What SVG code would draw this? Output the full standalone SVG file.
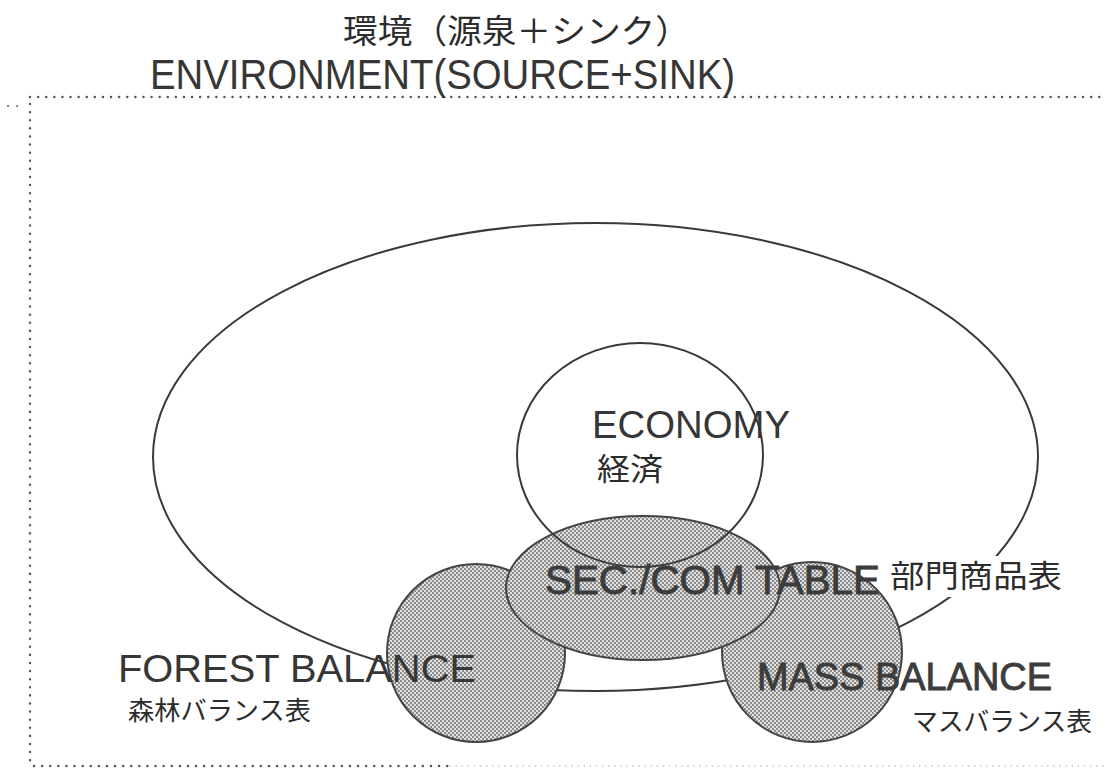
<svg xmlns="http://www.w3.org/2000/svg" width="1107" height="769" viewBox="0 0 1107 769">
<style>
.en{font-family:"Liberation Sans",Arial,sans-serif;fill:#363636}
.enb{font-family:"Liberation Sans",Arial,sans-serif;fill:#3c3c3c;stroke:#3c3c3c;stroke-width:0.9}
.jp{font-family:"Noto Sans CJK JP","Liberation Sans",sans-serif;fill:#2c2c2c}
.line{fill:none;stroke:#3a3a3a;stroke-width:2}
.shade{fill:url(#dots);stroke:#444;stroke-width:2}
.dotted{fill:none;stroke:#555;stroke-width:2.4;stroke-dasharray:0.1 8;stroke-linecap:round}
.dotted-faint{fill:none;stroke:#bbb;stroke-width:1.6;stroke-dasharray:0.1 6;stroke-linecap:round}
</style>
<defs>
<pattern id="dots" width="4" height="4" patternUnits="userSpaceOnUse">
<rect width="4" height="4" fill="#e0e0e0"/>
<rect width="2" height="2" fill="#8c8c8c"/>
<rect x="2" y="2" width="2" height="2" fill="#8c8c8c"/>
</pattern>
</defs>
<rect width="1107" height="769" fill="#ffffff"/>
<g id="border">
<path class="dotted" d="M30,97 H1107"/>
<path class="dotted" d="M30,104 V766"/>
<path class="dotted" d="M34,766 H450"/>
<path class="dotted-faint" d="M450,766 H1107"/>
<path class="dotted" d="M8,106 H20" style="stroke-dasharray:0.1 9;stroke-width:1.8"/>
</g>
<g id="environment">
<ellipse class="line" cx="595.5" cy="457" rx="442.5" ry="234"/>
<text class="jp" x="343" y="43" font-size="33" textLength="347" lengthAdjust="spacingAndGlyphs">環境（源泉＋シンク）</text>
<text class="en" x="150" y="89" font-size="42" textLength="585" lengthAdjust="spacingAndGlyphs">ENVIRONMENT(SOURCE+SINK)</text>
</g>
<g id="forest">
<circle class="shade" cx="476" cy="653" r="89"/>
<text class="en" x="118" y="682" font-size="39" textLength="358" lengthAdjust="spacingAndGlyphs">FOREST BALANCE</text>
<text class="jp" x="128" y="720" font-size="26" textLength="183" lengthAdjust="spacingAndGlyphs">森林バランス表</text>
</g>
<g id="mass">
<circle class="shade" cx="812" cy="652" r="90"/>
<text class="enb" x="757" y="690" font-size="38" textLength="295" lengthAdjust="spacingAndGlyphs">MASS BALANCE</text>
<text class="jp" x="912" y="731" font-size="26" textLength="180" lengthAdjust="spacingAndGlyphs">マスバランス表</text>
</g>
<g id="sec-com">
<ellipse class="shade" cx="643" cy="588" rx="137" ry="72"/>
<text class="enb" x="545" y="594" font-size="40" textLength="335" lengthAdjust="spacingAndGlyphs">SEC./COM TABLE</text>
<rect x="885" y="556" width="184" height="41" fill="#ffffff"/>
<text class="jp" x="890" y="587" font-size="31" textLength="172" lengthAdjust="spacingAndGlyphs">部門商品表</text>
</g>
<g id="economy">
<ellipse class="line" cx="640" cy="455" rx="123" ry="112"/>
<text class="en" x="592" y="438" font-size="39" textLength="198" lengthAdjust="spacingAndGlyphs">ECONOMY</text>
<text class="jp" x="597" y="480" font-size="31" textLength="66" lengthAdjust="spacingAndGlyphs">経済</text>
</g>
<g id="connectors"></g>
</svg>
